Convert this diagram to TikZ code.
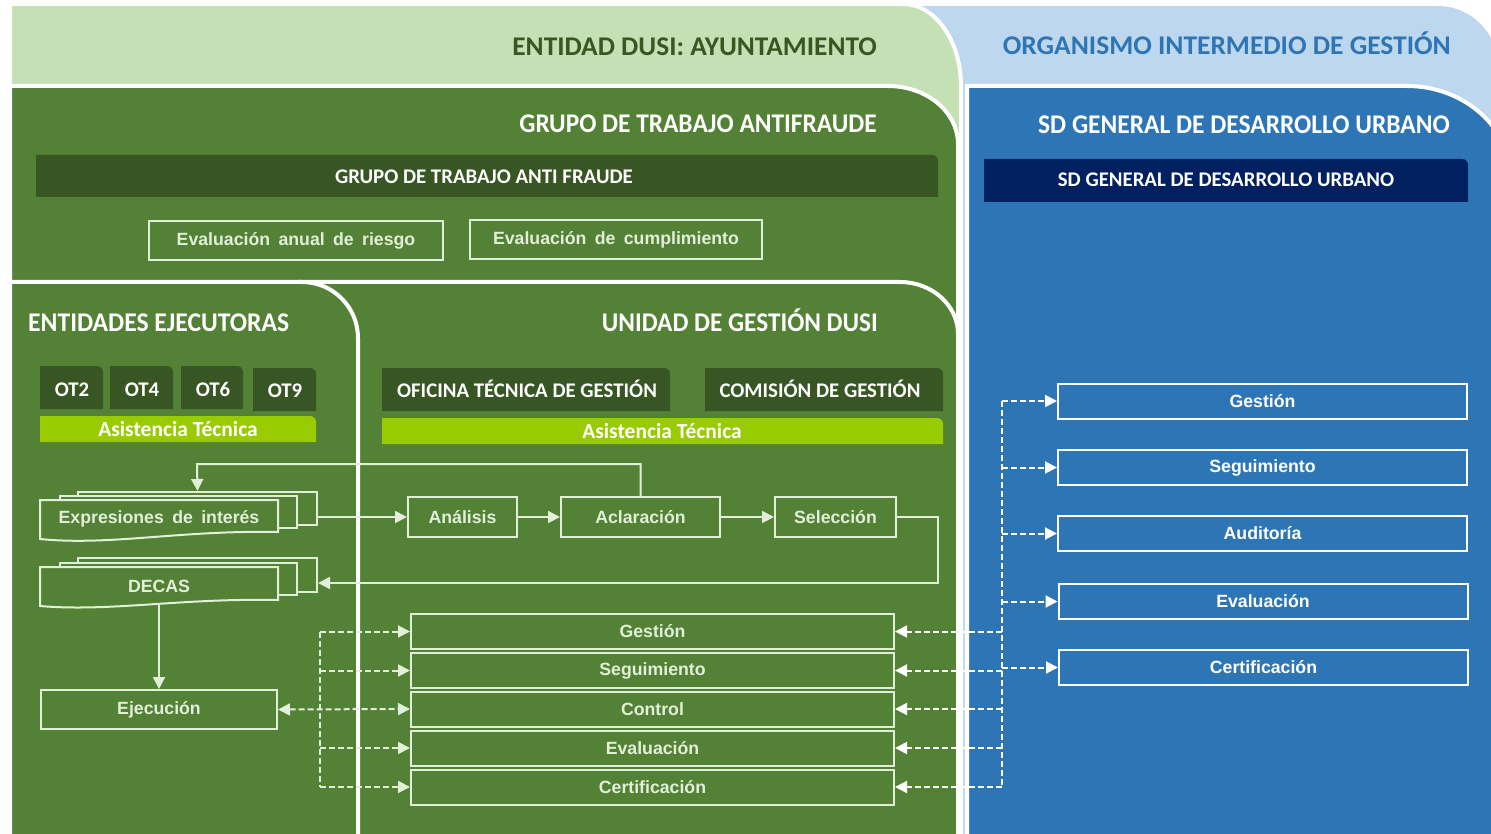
\documentclass[tikz,border=0pt]{standalone}
\usepackage{fontspec}
\usepackage{graphicx}
\usetikzlibrary{arrows.meta,calc}
\newfontfamily\hdfont{Carlito}
\newfontfamily\arfont{Liberation Sans}[WordSpace=1.7]
\definecolor{lgreen}{HTML}{C5E0B4}
\definecolor{lblue}{HTML}{BDD7EE}
\definecolor{mgreen}{HTML}{538135}
\definecolor{dgreen}{HTML}{375623}
\definecolor{mblue}{HTML}{2E75B6}
\definecolor{navy}{HTML}{002060}
\definecolor{lime}{HTML}{99CC00}
\definecolor{tgreen}{HTML}{385723}
\definecolor{lineg}{HTML}{E2F0D9}
% panel with rounded top-right corner: style, x1, y1, x2, y2, rx, ry  (y grows downwards)
\newcommand\rtr[7]{\path[#1] (#2,#5) -- (#2,#3) -- ({#4-#6},#3) .. controls ({#4-0.448*#6},#3) and (#4,{#3+0.448*#7}) .. (#4,{#3+#7}) -- (#4,#5) -- cycle;}
\tikzset{
  hd/.style={font=\hdfont\bfseries\fontsize{27}{30}\selectfont, inner sep=0pt},
  bartext/.style={font=\hdfont\bfseries\fontsize{20.8}{24}\selectfont, text=white, inner sep=0pt, anchor=base},
  attext/.style={bartext, font=\hdfont\bfseries\fontsize{21.5}{24}\selectfont},
  box/.style={draw=lineg, line width=2pt, font=\arfont\bfseries\fontsize{17.7}{20}\selectfont, text=lineg, inner sep=0pt},
  bbox/.style={box, draw=white, text=white},
  doc/.style={draw=lineg, line width=2pt, fill=mgreen, inner sep=0pt},
  doctext/.style={font=\arfont\bfseries\fontsize{17.7}{20}\selectfont, text=lineg, inner sep=0pt},
  flow/.style={draw=lineg, line width=2pt, -{Triangle[length=12pt,width=12pt]}},
  dflow/.style={flow, dash pattern=on 6pt off 3pt},
  wflow/.style={dflow, draw=white},
  panel/.style={fill=#1, draw=white, line width=4pt},
}
\begin{document}
\begin{tikzpicture}[x=1pt,y=-1pt]
\useasboundingbox (0,0) rectangle (1491,834);
\clip (0,0) rectangle (1491,834);
\fill[white] (0,0) rectangle (1491,834);
% panels
\rtr{panel=lblue}{900}{4}{1500}{900}{62}{62}
\rtr{panel=mblue}{967}{86}{1512}{900}{105}{95}
\rtr{panel=lgreen}{10}{4}{961}{900}{58}{82}
\rtr{panel=mgreen}{10}{86}{958}{900}{70}{58}
\rtr{panel=mgreen}{300}{282}{958}{900}{58}{52}
\rtr{panel=mgreen}{10}{282}{358}{900}{56}{56}
% titles
\node[hd, text=tgreen, anchor=base east] (t1) at (877,56) {\scalebox{1.014}[1]{ENTIDAD DUSI: AYUNTAMIENTO}};
\node[hd, text=mblue, anchor=base east] (t2) at (1451,55) {\scalebox{1.018}[1]{ORGANISMO INTERMEDIO DE GESTIÓN}};
\node[hd, text=white, anchor=base east] (t3) at (877,133) {\scalebox{0.94}[1]{GRUPO DE TRABAJO ANTIFRAUDE}};
\node[hd, text=white, anchor=base east] (t4) at (1450,134) {\scalebox{0.943}[1]{SD GENERAL DE DESARROLLO URBANO}};
\node[hd, text=white, anchor=base west] (t5) at (28,331) {\scalebox{0.949}[1]{ENTIDADES EJECUTORAS}};
\node[hd, text=white, anchor=base east] (t6) at (878,331) {\scalebox{0.936}[1]{UNIDAD DE GESTIÓN DUSI}};
% bars
\rtr{fill=dgreen}{36}{155}{938}{197}{6}{6}
\node[bartext] (gbar) at (484,184) {GRUPO DE TRABAJO ANTI FRAUDE};
\rtr{fill=navy}{984}{159}{1468}{202}{6}{6}
\node[bartext] (sdbar) at (1226,187) {SD GENERAL DE DESARROLLO URBANO};
\rtr{fill=dgreen}{40}{366}{103}{409}{6}{6}
\node[bartext] (ot2) at (72,396) {OT2};
\rtr{fill=dgreen}{110}{366}{173}{409}{6}{6}
\node[bartext] (ot4) at (142,396) {OT4};
\rtr{fill=dgreen}{181}{366}{243}{409}{6}{6}
\node[bartext] (ot6) at (213,396) {OT6};
\rtr{fill=dgreen}{253}{368}{316}{411}{6}{6}
\node[bartext] (ot9) at (285,397) {OT9};
\rtr{fill=lime}{40}{416}{316}{442}{6}{6}
\node[attext] (atl) at (178,436) {Asistencia Técnica};
\rtr{fill=dgreen}{382}{368}{670}{411}{6}{6}
\node[bartext] (otg) at (527,397) {OFICINA TÉCNICA DE GESTIÓN};
\rtr{fill=dgreen}{705}{368}{943}{411}{6}{6}
\node[bartext] (cdg) at (820,397) {COMISIÓN DE GESTIÓN};
\rtr{fill=lime}{382}{418}{943}{444}{6}{6}
\node[attext] (atr) at (662,438) {Asistencia Técnica};
% evaluation boxes
\node[box, minimum width=294pt, minimum height=39pt] (ear) at (296,240.5) {Evaluación anual de riesgo};
\node[box, minimum width=292pt, minimum height=39pt] (ecu) at (616,240) {Evaluación de cumplimiento};
% document stacks
\node[doc, minimum width=239pt, minimum height=33pt] (expr3) at (197.5,508.5) {};
\node[doc, minimum width=237pt, minimum height=32pt] (expr2) at (178.5,512) {};
\path[doc] (40,500) -- (278,500) -- (278,532) .. controls (180,530) and (110,546) .. (40,539) -- cycle;
\node[doctext] (expr) at (159,519) {Expresiones de interés};
\node[doc, minimum width=239pt, minimum height=34pt] (decas3) at (197.5,575) {};
\node[doc, minimum width=237pt, minimum height=32pt] (decas2) at (178.5,579) {};
\path[doc] (40,567) -- (278,567) -- (278,600) .. controls (180,598) and (110,612) .. (40,606) -- cycle;
\node[doctext] (decas) at (159,586) {DECAS};
\coordinate (decasbot) at (159,605);
% process boxes
\node[box, minimum width=109pt, minimum height=40pt] (analisis) at (462.5,517) {Análisis};
\node[box, minimum width=159pt, minimum height=40pt] (aclaracion) at (640.5,517) {Aclaración};
\node[box, minimum width=121pt, minimum height=40pt] (seleccion) at (835.5,517) {Selección};
\node[box, minimum width=236pt, minimum height=39pt] (ejecucion) at (159,709.5) {Ejecución};
% middle stack
\node[box, minimum width=483pt, minimum height=35pt] (mgest) at (652.5,631.5) {Gestión};
\node[box, minimum width=483pt, minimum height=35pt] (mseg) at (652.5,670.5) {Seguimiento};
\node[box, minimum width=483pt, minimum height=35pt] (mcon) at (652.5,709) {Control};
\node[box, minimum width=483pt, minimum height=35pt] (meva) at (652.5,748) {Evaluación};
\node[box, minimum width=483pt, minimum height=35pt] (mcer) at (652.5,787) {Certificación};
% right boxes
\node[bbox, minimum width=409pt, minimum height=35pt] (rgest) at (1262.5,401) {Gestión};
\node[bbox, minimum width=409pt, minimum height=35pt] (rseg) at (1262.5,467.5) {Seguimiento};
\node[bbox, minimum width=409pt, minimum height=35pt] (raud) at (1262.5,533.5) {Auditoría};
\node[bbox, minimum width=409pt, minimum height=35pt] (reva) at (1263,601.5) {Evaluación};
\node[bbox, minimum width=409pt, minimum height=35pt] (rcer) at (1263.5,667.5) {Certificación};
% flow connectors
\draw[flow] (expr3.east |- analisis.west) -- (analisis.west);
\draw[flow] (analisis.east) -- (aclaracion.west);
\draw[flow] (aclaracion.east) -- (seleccion.west);
\coordinate (ret) at (197,464);
\draw[flow] (aclaracion.north) |- (ret) -- (expr3.north);
\coordinate (selout) at (938,583);
\draw[flow] (seleccion.east) -| (selout) -- (decas3.east |- selout);
\draw[flow] (decasbot) -- (ejecucion.north);
% left dashed bus
\coordinate (lbtop) at (320,631.5);
\coordinate (lbbot) at (320,787);
\draw[draw=lineg, line width=2pt, dash pattern=on 6pt off 3pt] (lbtop) -- (lbbot);
\draw[dflow] (lbtop) -- (mgest.west);
\draw[dflow] (mseg.west -| lbtop) -- (mseg.west);
\draw[dflow] (meva.west -| lbtop) -- (meva.west);
\draw[dflow] (lbbot) -- (mcer.west);
\draw[dflow, {Triangle[length=12pt,width=12pt]}-{Triangle[length=12pt,width=12pt]}] (ejecucion.east) -- (mcon.west);
% right dashed bus
\coordinate (rbtop) at (1002,401);
\coordinate (rbbot) at (1002,787);
\draw[draw=white, line width=2pt, dash pattern=on 6pt off 3pt] (rbtop) -- (rbbot);
\draw[wflow] (rbtop) -- (rgest.west);
\draw[wflow] (rseg.west -| rbtop) -- (rseg.west);
\draw[wflow] (raud.west -| rbtop) -- (raud.west);
\draw[wflow] (reva.west -| rbtop) -- (reva.west);
\draw[wflow] (rcer.west -| rbtop) -- (rcer.west);
\draw[wflow] (mgest.east -| rbtop) -- (mgest.east);
\draw[wflow] (mseg.east -| rbtop) -- (mseg.east);
\draw[wflow] (mcon.east -| rbtop) -- (mcon.east);
\draw[wflow] (meva.east -| rbtop) -- (meva.east);
\draw[wflow] (rbbot) -- (mcer.east);
\end{tikzpicture}
\end{document}
